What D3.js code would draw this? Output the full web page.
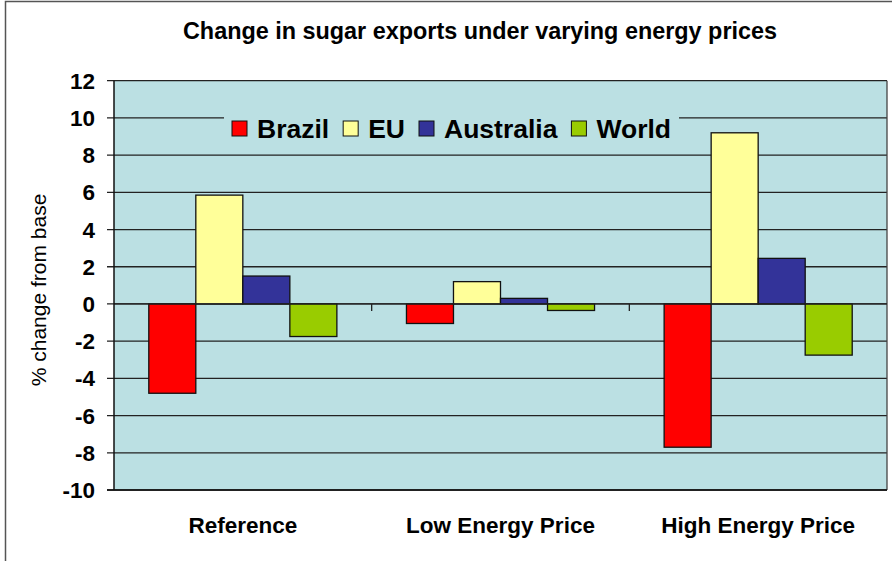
<!DOCTYPE html>
<html>
<head>
<meta charset="utf-8">
<script src="https://cdn.jsdelivr.net/npm/d3@7"></script>
<style>
  body { margin: 0; background: #fff; }
  text { font-family: "Liberation Sans", Arial, sans-serif; }
</style>
</head>
<body>
<div id="chart"></div>
<script>
// data
const scenarios = ["Reference", "Low Energy Price", "High Energy Price"];
const regions = ["Brazil", "EU", "Australia", "World"];
const brazil = [-4.8, -1.05, -7.7];
const eu = [5.85, 1.2, 9.2];
const australia = [1.5, 0.3, 2.45];
const world = [-1.75, -0.35, -2.75];
const yTicks = [-10, -8, -6, -4, -2, 0, 2, 4, 6, 8, 10, 12];
const colors = ["#FF0000", "#FFFF99", "#333399", "#99CC00"];

const series = [brazil, eu, australia, world];

var width = 892, height = 561;
var plot = {left: 114, top: 80.7, right: 887, bottom: 490};

var svg = d3.select("#chart")
  .append("svg")
    .attr("width", width)
    .attr("height", height);

// outer chart border
svg.append("rect")
  .attr("x", 5.5).attr("y", 1.5)
  .attr("width", 1000).attr("height", 1000)
  .attr("fill", "white")
  .attr("stroke", "#555")
  .attr("stroke-width", 1.5);

// scales
var x0 = d3.scaleBand()
  .domain(scenarios)
  .range([plot.left, plot.right])
  .padding(0);

var x1 = d3.scaleBand()
  .domain(regions)
  .range([0, x0.bandwidth()])
  .paddingInner(0)
  .paddingOuter(0.74);

var y = d3.scaleLinear()
  .domain([-10, 12])
  .range([plot.bottom, plot.top]);

var color = d3.scaleOrdinal().domain(regions).range(colors);

// plot background
svg.append("rect")
  .attr("x", plot.left).attr("y", plot.top)
  .attr("width", plot.right - plot.left)
  .attr("height", plot.bottom - plot.top)
  .attr("fill", "#BBE0E3");

// gridlines
svg.append("g")
  .selectAll("line")
  .data(yTicks)
  .enter()
  .append("line")
    .attr("x1", plot.left - 7)
    .attr("x2", plot.right)
    .attr("y1", d => y(d))
    .attr("y2", d => y(d))
    .attr("stroke", "#222")
    .attr("stroke-width", 1.3);

// right edge of plot
svg.append("line")
  .attr("x1", plot.right).attr("x2", plot.right)
  .attr("y1", plot.top).attr("y2", plot.bottom)
  .attr("stroke", "#444").attr("stroke-width", 1.3);

// y tick labels
svg.append("g")
  .selectAll("text")
  .data(yTicks)
  .enter()
  .append("text")
    .attr("x", 95)
    .attr("y", d => y(d))
    .attr("dy", "0.36em")
    .attr("text-anchor", "end")
    .style("font-size", "22.5px")
    .style("font-weight", "bold")
    .text(d => d);

// bars
var rows = [];
scenarios.forEach(function (s, i) {
  regions.forEach(function (r, j) {
    rows.push({scenario: s, region: r, value: series[j][i]});
  });
});

svg.append("g")
  .selectAll("rect")
  .data(rows)
  .enter()
  .append("rect")
    .attr("x", d => x0(d.scenario) + x1(d.region))
    .attr("width", x1.bandwidth())
    .attr("y", d => y(Math.max(0, d.value)))
    .attr("height", d => Math.abs(y(d.value) - y(0)))
    .attr("fill", d => color(d.region))
    .attr("stroke", "#111")
    .attr("stroke-width", 1.3);

// category axis at zero
svg.append("line")
  .attr("x1", plot.left).attr("x2", plot.right)
  .attr("y1", y(0)).attr("y2", y(0))
  .attr("stroke", "#222").attr("stroke-width", 1.3);

svg.append("g")
  .selectAll("line")
  .data(scenarios.slice(1))
  .enter()
  .append("line")
    .attr("x1", d => x0(d)).attr("x2", d => x0(d))
    .attr("y1", y(0)).attr("y2", y(0) + 7)
    .attr("stroke", "#222").attr("stroke-width", 1.3);

// value axis line + bottom line
svg.append("line")
  .attr("x1", plot.left).attr("x2", plot.left)
  .attr("y1", plot.top).attr("y2", plot.bottom)
  .attr("stroke", "#111").attr("stroke-width", 1.5);
svg.append("line")
  .attr("x1", plot.left - 7).attr("x2", plot.right)
  .attr("y1", plot.bottom).attr("y2", plot.bottom)
  .attr("stroke", "#111").attr("stroke-width", 1.5);

// category labels
svg.append("g")
  .selectAll("text")
  .data(scenarios)
  .enter()
  .append("text")
    .attr("x", d => x0(d) + x0.bandwidth() / 2)
    .attr("y", 533)
    .attr("text-anchor", "middle")
    .style("font-size", "22.5px")
    .style("font-weight", "bold")
    .text(d => d);

// title
svg.append("text")
  .attr("x", 480).attr("y", 39)
  .attr("text-anchor", "middle")
  .style("font-size", "23.4px")
  .style("font-weight", "bold")
  .text("Change in sugar exports under varying energy prices");

// y axis title
svg.append("text")
  .attr("transform", "translate(46,290) rotate(-90)")
  .attr("text-anchor", "middle")
  .style("font-size", "21px")
  .text("% change from base");

// Handmade legend
var legend = svg.append("g");
var legendBg = legend.append("rect")
  .attr("fill", "#BBE0E3");
var lx = 232;
regions.forEach(function (r) {
  legend.append("rect")
    .attr("x", lx).attr("y", 121)
    .attr("width", 15).attr("height", 15)
    .attr("fill", color(r))
    .attr("stroke", "#111").attr("stroke-width", 1);
  var t = legend.append("text")
    .attr("x", lx + 25).attr("y", 137.5)
    .style("font-size", "26.5px")
    .style("font-weight", "bold")
    .text(r);
  lx = lx + 25 + t.node().getComputedTextLength() + 14;
});
legendBg
  .attr("x", 224).attr("y", 108)
  .attr("width", lx - 224 - 6).attr("height", 42);
</script>
</body>
</html>
